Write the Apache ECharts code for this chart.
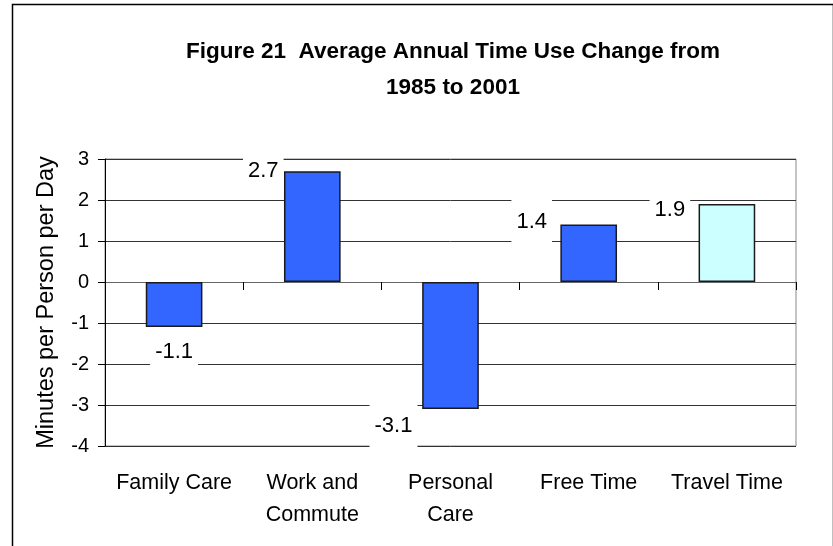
<!DOCTYPE html>
<html>
<head>
<meta charset="utf-8">
<script src="https://cdn.jsdelivr.net/npm/echarts@6/dist/echarts.min.js"></script>
<style>
  html, body { margin: 0; padding: 0; background: #fff; }
  #chart { width: 833px; height: 546px; }
</style>
</head>
<body>
<div id="chart"></div>
<script>
// datos
const categorias = ["Family Care", "Work and\nCommute", "Personal\nCare", "Free Time", "Travel Time"];
const valores = [-1.1, 2.7, -3.1, 1.4, 1.9];
const colores = ["#3366FF", "#3366FF", "#3366FF", "#3366FF", "#CCFFFF"];
// desplazamiento de cada etiqueta (estilo Excel)
const offsetsEtiqueta = [[0, 3], [-49, 22], [-57, -5], [-57, 19], [-57, 28]];

const fuente = "'Liberation Sans', Arial, sans-serif";

const chart = echarts.init(document.getElementById("chart"));

const option = {
  backgroundColor: "#fff",
  animation: false,
  title: {
    text: "Figure 21  Average Annual Time Use Change from\n1985 to 2001",
    left: 448,
    top: 29,
    textAlign: "center",
    textStyle: { fontFamily: fuente, fontSize: 22.5, fontWeight: "bold", color: "#000", lineHeight: 36 },
  },
  graphic: [
    {
      type: "rect",
      left: 10,
      top: 2,
      shape: { width: 821, height: 600 },
      style: { fill: "none", stroke: "#000", lineWidth: 1.5 },
      silent: true,
    },
  ],
  grid: {
    left: 105,
    right: 37,
    top: 159,
    bottom: 100,
    show: true,
    borderColor: "#888",
    borderWidth: 1,
    backgroundColor: "#fff",
  },
  xAxis: [
    {
      type: "category",
      data: categorias,
      position: "bottom",
      axisLine: { show: false, onZero: false },
      axisTick: { show: false },
      axisLabel: {
        margin: 21,
        fontFamily: fuente,
        fontSize: 21.5,
        color: "#000",
        lineHeight: 32,
        interval: 0,
      },
    },
    {
      type: "category",
      data: categorias,
      position: "bottom",
      axisLine: { show: true, onZero: true, lineStyle: { color: "#666", width: 1 } },
      axisTick: { show: true, length: 8, inside: false, lineStyle: { color: "#000" } },
      axisLabel: { show: false },
    },
  ],
  yAxis: {
    type: "value",
    min: -4,
    max: 3,
    interval: 1,
    name: "Minutes per Person per Day",
    nameLocation: "middle",
    nameGap: 46,
    nameTextStyle: { fontFamily: fuente, fontSize: 23.5, color: "#000" },
    axisLine: { show: true, lineStyle: { color: "#000", width: 1 } },
    axisTick: { show: true, length: 7, inside: false, lineStyle: { color: "#000" } },
    axisLabel: { margin: 16, fontFamily: fuente, fontSize: 20, color: "#000" },
    splitLine: { show: true, lineStyle: { color: "#333", width: 1 } },
  },
  series: [
    {
      type: "bar",
      xAxisIndex: 0,
      barWidth: "41%",
      data: valores.map((v, i) => ({
        value: v,
        itemStyle: { color: colores[i], borderColor: "#1a1a1a", borderWidth: 1.5 },
        label: {
          show: true,
          position: "outside",
          distance: 0,
          offset: offsetsEtiqueta[i],
          fontFamily: fuente,
          fontSize: 22,
          color: "#000",
          backgroundColor: "#fff",
          padding: [11, 5],
          formatter: (p) => p.value.toFixed(1),
        },
      })),
    },
  ],
};

chart.setOption(option);
</script>
</body>
</html>
